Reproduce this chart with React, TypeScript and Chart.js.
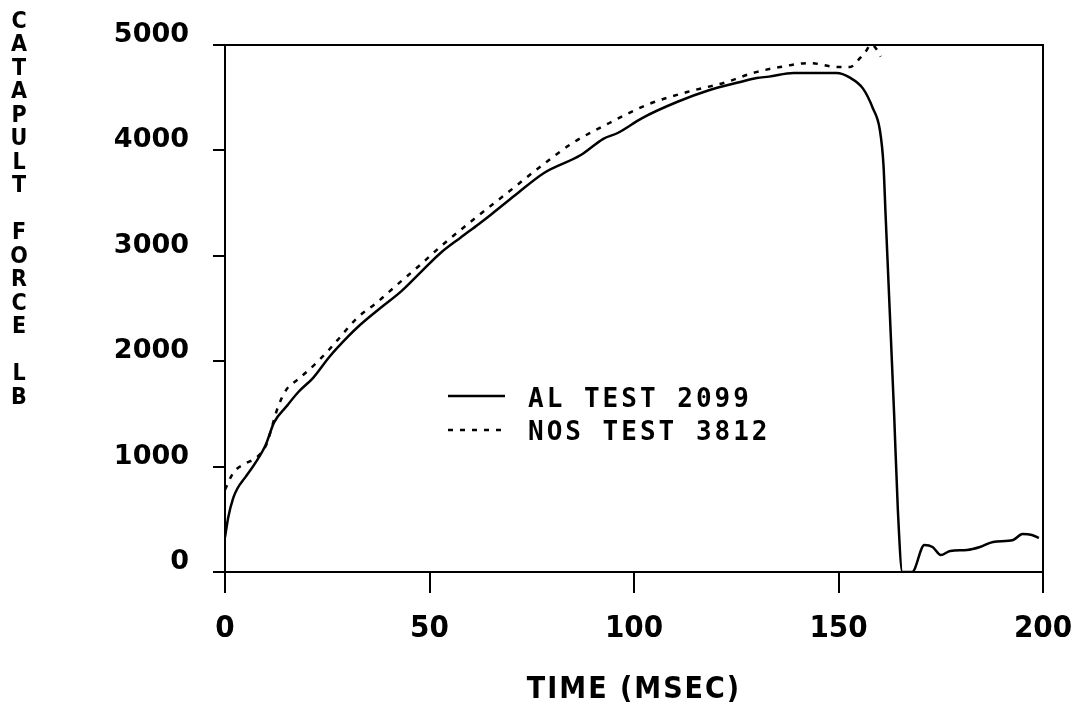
import React, { useEffect, useRef } from "react";
import { Chart, registerables } from "chart.js";

Chart.register(...registerables);

// AL TEST 2099 (solid)
const alTime = [0, 0.8, 2, 3, 5, 7.5, 10, 12, 15, 18, 21.5, 25.5, 30, 33, 38, 43, 48, 52.5, 57.5, 62, 65, 71, 78, 87, 92.5, 96, 102, 110.5, 118.5, 126, 130, 133, 139, 149.5, 152.8, 156, 158.4, 160.1, 161, 161.5, 162.5, 163.6, 164.5, 165.6, 168, 171, 173, 175, 177.3, 181.4, 184.6, 187.8, 192.7, 195, 197.3, 199];
const alForce = [330, 520, 700, 790, 900, 1040, 1210, 1420, 1570, 1710, 1840, 2040, 2230, 2343, 2505, 2660, 2850, 3020, 3170, 3300, 3390, 3577, 3786, 3956, 4110, 4165, 4307, 4459, 4573, 4649, 4687, 4700, 4734, 4734, 4690, 4586, 4400, 4196, 3860, 3400, 2500, 1500, 600, 0, 0, 256, 237, 161, 199, 209, 237, 285, 304, 360, 351, 323];

// NOS TEST 3812 (dotted)
const nosTime = [0, 2, 5, 7.5, 10, 13, 15, 17.6, 20, 22.5, 25, 27.5, 32.3, 37, 42, 47.7, 52.6, 60.6, 69, 77, 85, 94, 103, 113, 122.7, 129, 135.7, 143, 149.6, 152.8, 155.3, 156.5, 158, 159.3, 160.3];
const nosForce = [780, 940, 1030, 1080, 1200, 1570, 1730, 1820, 1900, 1990, 2090, 2200, 2410, 2552, 2723, 2913, 3084, 3340, 3596, 3843, 4070, 4260, 4430, 4554, 4649, 4734, 4791, 4829, 4791, 4791, 4877, 4930, 5005, 4960, 4890];

const seriesLabels = ["AL TEST 2099", "NOS TEST 3812"];
const xTickValues = [0, 50, 100, 150, 200];
const yTickValues = [0, 1000, 2000, 3000, 4000, 5000];
const xTitle = "TIME (MSEC)";
const yTitle = "CATAPULT FORCE LB";

const framePlugin = {
  id: "frame",
  afterDraw(chart: any) {
    const { ctx, chartArea: a } = chart;
    ctx.save();
    ctx.strokeStyle = "#000";
    ctx.lineWidth = 2;
    ctx.setLineDash([]);
    ctx.strokeRect(a.left, a.top, a.right - a.left, a.bottom - a.top);

    ctx.fillStyle = "#000";
    ctx.textAlign = "center";
    ctx.textBaseline = "middle";
    ctx.font = 'bold 23px "DejaVu Sans Condensed", "DejaVu Sans", sans-serif';
    yTitle.split("").forEach((c, i) => {
      if (c !== " ") ctx.fillText(c, 19, 22 + i * 23.5);
    });

    ctx.font = 'bold 30px "Liberation Sans Narrow", "DejaVu Sans Condensed", sans-serif';
    (ctx as any).letterSpacing = "2px";
    ctx.fillText(xTitle, (a.left + a.right) / 2, 690);

    // legend
    const rows = [400, 433];
    const lines = [396, 430];
    ctx.lineWidth = 2.5;
    ctx.beginPath();
    ctx.moveTo(448, lines[0]);
    ctx.lineTo(505, lines[0]);
    ctx.stroke();
    ctx.setLineDash([5, 7]);
    ctx.beginPath();
    ctx.moveTo(448, lines[1]);
    ctx.lineTo(505, lines[1]);
    ctx.stroke();
    ctx.setLineDash([]);
    ctx.textAlign = "left";
    ctx.font = 'bold 26px "DejaVu Sans Mono", monospace';
    (ctx as any).letterSpacing = "3px";
    seriesLabels.forEach((t, i) => ctx.fillText(t, 528, rows[i]));
    ctx.restore();
  },
};

export default function App() {
  const ref = useRef<HTMLCanvasElement>(null);
  useEffect(() => {
    if (!ref.current) return;
    const chart = new Chart(ref.current, {
      type: "line",
      data: {
        datasets: [
          {
            label: seriesLabels[0],
            data: alTime.map((t, i) => ({ x: t, y: alForce[i] })),
            borderColor: "#000",
            borderWidth: 2.5,
            pointRadius: 0,
            cubicInterpolationMode: "monotone",
          },
          {
            label: seriesLabels[1],
            data: nosTime.map((t, i) => ({ x: t, y: nosForce[i] })),
            borderColor: "#000",
            borderWidth: 2.5,
            borderDash: [5, 7],
            pointRadius: 0,
            cubicInterpolationMode: "monotone",
          },
        ],
      },
      options: {
        animation: false,
        responsive: true,
        maintainAspectRatio: false,
        layout: { padding: { left: 0, right: 32, top: 45, bottom: 0 } },
        plugins: { legend: { display: false }, tooltip: { enabled: false } },
        scales: {
          x: {
            type: "linear",
            min: 0,
            max: 200,
            afterFit: (s: any) => {
              s.height = 137;
              s.paddingLeft = 0;
              s.paddingRight = 0;
            },
            afterBuildTicks: (s: any) => {
              s.ticks = xTickValues.map((v) => ({ value: v }));
            },
            border: { color: "#000", width: 2 },
            grid: { drawOnChartArea: false, color: "#000", lineWidth: 2, tickLength: 21 },
            ticks: {
              color: "#000",
              padding: 17,
              maxRotation: 0,
              callback: (v: any) => String(v),
              font: { family: '"Liberation Sans Narrow", "DejaVu Sans Condensed", sans-serif', size: 31, weight: "bold" },
            },
          },
          y: {
            type: "linear",
            min: 0,
            max: 5000,
            afterFit: (s: any) => {
              s.width = 225;
              s.paddingTop = 0;
              s.paddingBottom = 0;
            },
            afterBuildTicks: (s: any) => {
              s.ticks = yTickValues.map((v) => ({ value: v }));
            },
            border: { color: "#000", width: 2 },
            grid: { drawOnChartArea: false, color: "#000", lineWidth: 2, tickLength: 12 },
            ticks: {
              color: "#000",
              padding: 24,
              labelOffset: -10,
              callback: (v: any) => String(v),
              font: { family: '"DejaVu Sans", sans-serif', size: 27, weight: "bold" },
            },
          },
        },
      },
      plugins: [framePlugin],
    });
    return () => chart.destroy();
  }, []);
  return (
    <div style={{ position: "absolute", left: 0, top: 0, width: 1075, height: 709, background: "#fff" }}>
      <canvas ref={ref} />
    </div>
  );
}
